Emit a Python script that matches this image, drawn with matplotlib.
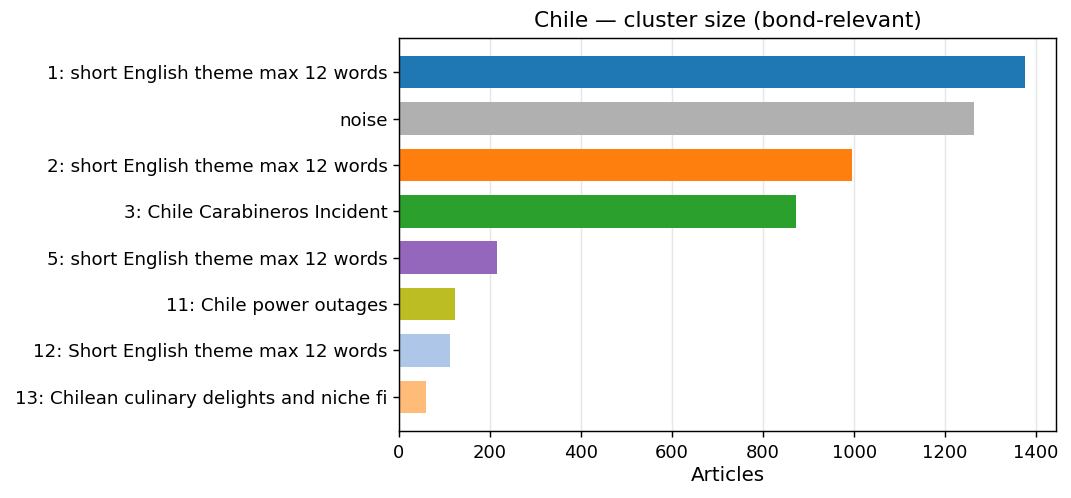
import matplotlib
matplotlib.use("Agg")
import matplotlib.pyplot as plt

# cluster labels, top to bottom
labels = [
    "1: short English theme max 12 words",
    "noise",
    "2: short English theme max 12 words",
    "3: Chile Carabineros Incident",
    "5: short English theme max 12 words",
    "11: Chile power outages",
    "12: Short English theme max 12 words",
    "13: Chilean culinary delights and niche fi",
]
articles = [1375, 1263, 995, 872, 215, 122, 113, 59]
colors = ["#1f77b4", "#b0b0b0", "#ff7f0e", "#2ca02c", "#9467bd", "#bcbd22", "#aec7e8", "#ffbb78"]

fig = plt.figure(figsize=(1071 / 130, 498 / 130), dpi=130)
ax = fig.add_axes([399 / 1071, 1 - 431 / 498, 657 / 1071, 393 / 498])

pos = list(range(len(labels)))
ax.barh(pos, articles, color=colors, height=0.7)
ax.set_yticks(pos)
ax.set_yticklabels(labels)
ax.tick_params(axis="y", labelsize=10.15, pad=2.6)
ax.invert_yaxis()
ax.grid(axis="x", alpha=0.3)
ax.set_axisbelow(True)
ax.set_xlabel("Articles", fontsize=11, labelpad=2.5)
ax.set_title("Chile \u2014 cluster size (bond-relevant)", fontsize=12)

fig.savefig("out.png", dpi=130)
